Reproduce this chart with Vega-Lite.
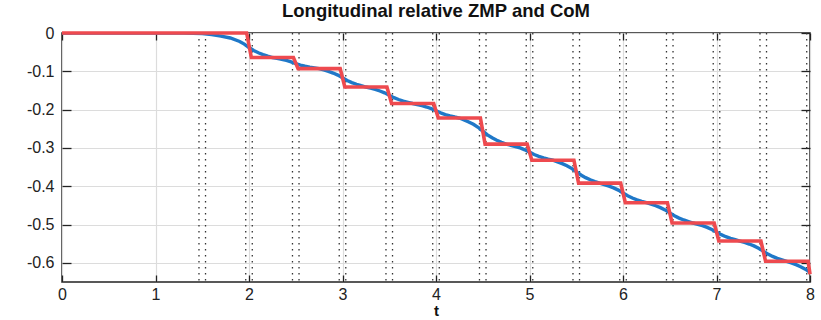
{
  "$schema": "https://vega.github.io/schema/vega-lite/v6.json",
  "autosize": "none",
  "width": 748,
  "height": 249,
  "padding": {"left": 62, "top": 33, "right": 11, "bottom": 38},
  "background": "white",
  "config": {
    "view": {"stroke": "#222", "strokeWidth": 1.5},
    "font": "Liberation Sans",
    "axis": {"labelFont": "Liberation Sans", "titleFont": "Liberation Sans"}
  },
  "title": {"text": "Longitudinal relative ZMP and CoM", "fontSize": 18.5, "fontWeight": "bold", "color": "#111", "offset": 5, "anchor": "middle", "font": "Liberation Sans"},
  "resolve": {"axis": {"x": "independent", "y": "independent"}},
  "datasets": {
    "events": [
      {"t": 1.465}, {"t": 1.535}, {"t": 1.965}, {"t": 2.035}, {"t": 2.465}, {"t": 2.535},
      {"t": 2.965}, {"t": 3.035}, {"t": 3.465}, {"t": 3.535}, {"t": 3.965}, {"t": 4.035},
      {"t": 4.465}, {"t": 4.535}, {"t": 4.965}, {"t": 5.035}, {"t": 5.465}, {"t": 5.535},
      {"t": 5.965}, {"t": 6.035}, {"t": 6.465}, {"t": 6.535}, {"t": 6.965}, {"t": 7.035},
      {"t": 7.465}, {"t": 7.535}, {"t": 7.965}
    ],
    "com": [
      {"t": 0, "v": 0}, {"t": 1.0, "v": 0}, {"t": 1.3, "v": 0}, {"t": 1.4, "v": -0.0005},
      {"t": 1.5, "v": -0.0015}, {"t": 1.6, "v": -0.004}, {"t": 1.7, "v": -0.008}, {"t": 1.8, "v": -0.013},
      {"t": 1.9, "v": -0.022}, {"t": 1.95, "v": -0.029},
      {"t": 2.00, "v": -0.038}, {"t": 2.05, "v": -0.0456}, {"t": 2.10, "v": -0.0515}, {"t": 2.15, "v": -0.0562}, {"t": 2.20, "v": -0.0603},
      {"t": 2.25, "v": -0.064}, {"t": 2.30, "v": -0.0663}, {"t": 2.35, "v": -0.0688}, {"t": 2.40, "v": -0.0717}, {"t": 2.45, "v": -0.0753},
      {"t": 2.50, "v": -0.080}, {"t": 2.55, "v": -0.0838}, {"t": 2.60, "v": -0.0867}, {"t": 2.65, "v": -0.0891}, {"t": 2.70, "v": -0.0911},
      {"t": 2.75, "v": -0.093}, {"t": 2.80, "v": -0.0964}, {"t": 2.85, "v": -0.1002}, {"t": 2.90, "v": -0.1046}, {"t": 2.95, "v": -0.1100},
      {"t": 3.00, "v": -0.117}, {"t": 3.05, "v": -0.1240}, {"t": 3.10, "v": -0.1294}, {"t": 3.15, "v": -0.1338}, {"t": 3.20, "v": -0.1376},
      {"t": 3.25, "v": -0.141}, {"t": 3.30, "v": -0.1441}, {"t": 3.35, "v": -0.1474}, {"t": 3.40, "v": -0.1514}, {"t": 3.45, "v": -0.1562},
      {"t": 3.50, "v": -0.1625}, {"t": 3.55, "v": -0.1688}, {"t": 3.60, "v": -0.1736}, {"t": 3.65, "v": -0.1776}, {"t": 3.70, "v": -0.1809},
      {"t": 3.75, "v": -0.184}, {"t": 3.80, "v": -0.1867}, {"t": 3.85, "v": -0.1897}, {"t": 3.90, "v": -0.1932}, {"t": 3.95, "v": -0.1975},
      {"t": 4.00, "v": -0.203}, {"t": 4.05, "v": -0.2085}, {"t": 4.10, "v": -0.2128}, {"t": 4.15, "v": -0.2163}, {"t": 4.20, "v": -0.2193},
      {"t": 4.25, "v": -0.222}, {"t": 4.30, "v": -0.2269}, {"t": 4.35, "v": -0.2322}, {"t": 4.40, "v": -0.2384}, {"t": 4.45, "v": -0.2461},
      {"t": 4.50, "v": -0.256}, {"t": 4.55, "v": -0.2659}, {"t": 4.60, "v": -0.2736}, {"t": 4.65, "v": -0.2798}, {"t": 4.70, "v": -0.2851},
      {"t": 4.75, "v": -0.290}, {"t": 4.80, "v": -0.2930}, {"t": 4.85, "v": -0.2963}, {"t": 4.90, "v": -0.3001}, {"t": 4.95, "v": -0.3049},
      {"t": 5.00, "v": -0.311}, {"t": 5.05, "v": -0.3171}, {"t": 5.10, "v": -0.3219}, {"t": 5.15, "v": -0.3257}, {"t": 5.20, "v": -0.3290},
      {"t": 5.25, "v": -0.332}, {"t": 5.30, "v": -0.3363}, {"t": 5.35, "v": -0.3410}, {"t": 5.40, "v": -0.3465}, {"t": 5.45, "v": -0.3533},
      {"t": 5.50, "v": -0.362}, {"t": 5.55, "v": -0.3707}, {"t": 5.60, "v": -0.3775}, {"t": 5.65, "v": -0.3830}, {"t": 5.70, "v": -0.3877},
      {"t": 5.75, "v": -0.392}, {"t": 5.80, "v": -0.3956}, {"t": 5.85, "v": -0.3996}, {"t": 5.90, "v": -0.4043}, {"t": 5.95, "v": -0.4101},
      {"t": 6.00, "v": -0.4175}, {"t": 6.05, "v": -0.4249}, {"t": 6.10, "v": -0.4307}, {"t": 6.15, "v": -0.4354}, {"t": 6.20, "v": -0.4394},
      {"t": 6.25, "v": -0.443}, {"t": 6.30, "v": -0.4468}, {"t": 6.35, "v": -0.4509}, {"t": 6.40, "v": -0.4558}, {"t": 6.45, "v": -0.4618},
      {"t": 6.50, "v": -0.4695}, {"t": 6.55, "v": -0.4772}, {"t": 6.60, "v": -0.4832}, {"t": 6.65, "v": -0.4881}, {"t": 6.70, "v": -0.4922},
      {"t": 6.75, "v": -0.496}, {"t": 6.80, "v": -0.4994}, {"t": 6.85, "v": -0.5030}, {"t": 6.90, "v": -0.5073}, {"t": 6.95, "v": -0.5127},
      {"t": 7.00, "v": -0.5195}, {"t": 7.05, "v": -0.5263}, {"t": 7.10, "v": -0.5317}, {"t": 7.15, "v": -0.5360}, {"t": 7.20, "v": -0.5396},
      {"t": 7.25, "v": -0.543}, {"t": 7.30, "v": -0.5468}, {"t": 7.35, "v": -0.5509}, {"t": 7.40, "v": -0.5558}, {"t": 7.45, "v": -0.5618},
      {"t": 7.50, "v": -0.5695}, {"t": 7.55, "v": -0.5772}, {"t": 7.60, "v": -0.5832}, {"t": 7.65, "v": -0.5881}, {"t": 7.70, "v": -0.5922},
      {"t": 7.75, "v": -0.596}, {"t": 7.80, "v": -0.6001}, {"t": 7.85, "v": -0.6047}, {"t": 7.90, "v": -0.6100}, {"t": 7.95, "v": -0.6166},
      {"t": 8.00, "v": -0.625}
    ],
    "zmp": [
      {"t": 0, "v": 0}, {"t": 1.975, "v": 0}, {"t": 2.025, "v": -0.064},
      {"t": 2.475, "v": -0.064}, {"t": 2.525, "v": -0.093},
      {"t": 2.975, "v": -0.093}, {"t": 3.025, "v": -0.141},
      {"t": 3.475, "v": -0.141}, {"t": 3.525, "v": -0.184},
      {"t": 3.975, "v": -0.184}, {"t": 4.025, "v": -0.222},
      {"t": 4.475, "v": -0.222}, {"t": 4.525, "v": -0.290},
      {"t": 4.975, "v": -0.290}, {"t": 5.025, "v": -0.332},
      {"t": 5.475, "v": -0.332}, {"t": 5.525, "v": -0.392},
      {"t": 5.975, "v": -0.392}, {"t": 6.025, "v": -0.443},
      {"t": 6.475, "v": -0.443}, {"t": 6.525, "v": -0.496},
      {"t": 6.975, "v": -0.496}, {"t": 7.025, "v": -0.543},
      {"t": 7.475, "v": -0.543}, {"t": 7.525, "v": -0.596},
      {"t": 7.98, "v": -0.596}, {"t": 8.0, "v": -0.63}
    ]
  },
  "layer": [
    {
      "data": {"name": "events"},
      "mark": {"type": "rule", "color": "#333", "strokeWidth": 1.3, "strokeDash": [1.5, 4.5]},
      "encoding": {
        "x": {"field": "t", "type": "quantitative", "scale": {"domain": [0, 8], "nice": false},
          "axis": {"orient": "bottom", "values": [0, 1, 2, 3, 4, 5, 6, 7, 8], "grid": true, "gridColor": "#dcdcdc", "gridWidth": 1.2,
            "title": "t", "titleFontSize": 15, "titleFontWeight": "bold", "titleColor": "#111", "titlePadding": 1,
            "labelFontSize": 16, "labelColor": "#222", "labelPadding": 11, "tickSize": -7, "tickWidth": 1.3, "tickColor": "#222",
            "domain": false, "format": "d", "labelFlush": false}},
        "y": {"datum": 0, "type": "quantitative", "axis": null},
        "y2": {"datum": -0.65}
      }
    },
    {
      "data": {"name": "com"},
      "mark": {"type": "line", "color": "#1f78c8", "strokeWidth": 3.4, "clip": true},
      "encoding": {
        "x": {"field": "t", "type": "quantitative", "axis": null},
        "y": {"field": "v", "type": "quantitative", "scale": {"domain": [-0.65, 0], "nice": false},
          "axis": {"orient": "left", "values": [0, -0.1, -0.2, -0.3, -0.4, -0.5, -0.6], "grid": true, "gridColor": "#dcdcdc", "gridWidth": 1.2,
            "title": null, "labelFontSize": 16, "labelColor": "#222", "labelPadding": 17, "tickSize": -9, "tickWidth": 1.3, "tickColor": "#222",
            "domain": false, "labelExpr": "datum.value == 0 ? '0' : replace(format(datum.value, '.1f'), '\u2212', '-')", "labelFlush": false}}
      }
    },
    {
      "data": {"name": "zmp"},
      "mark": {"type": "line", "color": "#ee4a4f", "strokeWidth": 3.6},
      "encoding": {
        "x": {"field": "t", "type": "quantitative",
          "axis": {"orient": "top", "values": [0, 1, 2, 3, 4, 5, 6, 7, 8], "labels": false, "title": null, "grid": false, "domain": false, "tickSize": -7, "tickWidth": 1.3, "tickColor": "#222"}},
        "y": {"field": "v", "type": "quantitative",
          "axis": {"orient": "right", "values": [0, -0.1, -0.2, -0.3, -0.4, -0.5, -0.6], "labels": false, "title": null, "grid": false, "domain": false, "tickSize": -9, "tickWidth": 1.3, "tickColor": "#222"}}
      }
    }
  ]
}
